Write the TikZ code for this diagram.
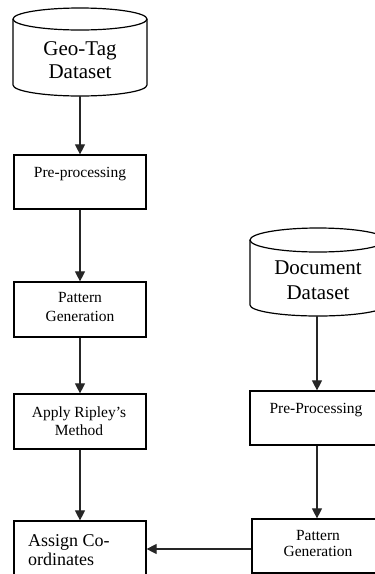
\documentclass[tikz,border=0pt]{standalone}
\usepackage{fontspec}
\setmainfont{Liberation Serif}
\usetikzlibrary{arrows.meta}
\begin{document}
\begin{tikzpicture}[x=1pt,y=-1pt,
  outline/.style={draw=black, line width=1.2pt},
  stepbox/.style={outline, rectangle, inner sep=0pt, fill=white},
  holder/.style={rectangle, inner sep=0pt},
  flow/.style={-{Triangle[length=10pt,width=10pt]}, line width=1.1pt, draw=black!85},
  big/.style={font=\fontsize{21}{24}\selectfont, inner sep=0pt},
  small/.style={font=\fontsize{15.5}{18}\selectfont, inner sep=0pt},
  mid/.style={font=\fontsize{18}{20}\selectfont, inner sep=0pt}]
\clip (0,0) rectangle (375,574);

% ---- left column ----
% Geo-Tag dataset cylinder
\node[holder, minimum width=134pt, minimum height=88pt] (geo) at (80,52) {};
\draw[outline] (80,19) ellipse [x radius=67, y radius=11];
\draw[outline] (13,19) -- (13,85)
  .. controls (13,91.08) and (43,96) .. (80,96)
  .. controls (117,96) and (147,91.08) .. (147,85) -- (147,19);
\node[big, anchor=base] (geoA) at (80,55) {Geo-Tag};
\node[big, anchor=base] (geoB) at (80,78) {Dataset};

\node[stepbox, minimum width=132pt, minimum height=54pt] (pre1) at (80,182) {};
\node[small, anchor=base] (pre1t) at (80,177) {Pre-processing};

\node[stepbox, minimum width=132pt, minimum height=55pt] (pat1) at (80,309.5) {};
\node[small, anchor=base] (pat1a) at (80,302) {Pattern};
\node[small, anchor=base] (pat1b) at (80,321) {Generation};

\node[stepbox, minimum width=132pt, minimum height=55pt] (rip) at (80,421.5) {};
\node[small, anchor=base] (ripa) at (79,417) {Apply Ripley's};
\node[small, anchor=base] (ripb) at (79,435) {Method};

\node[stepbox, minimum width=132pt, minimum height=56pt] (asg) at (80,549) {};
\node[mid, anchor=base west] (asga) at (28,546) {Assign Co-};
\node[mid, anchor=base west] (asgb) at (28,565) {ordinates};

% ---- right column ----
% Document dataset cylinder
\node[holder, minimum width=136pt, minimum height=88pt] (doc) at (318,272) {};
\draw[outline] (318,240) ellipse [x radius=68, y radius=12];
\draw[outline] (250,240) -- (250,305)
  .. controls (250,311.08) and (280.4,316) .. (318,316)
  .. controls (355.6,316) and (386,311.08) .. (386,305) -- (386,240);
\node[big, anchor=base] (docA) at (318,274) {Document};
\node[big, anchor=base] (docB) at (318,299) {Dataset};

\node[stepbox, minimum width=136pt, minimum height=54pt] (pre2) at (318,418) {};
\node[small, anchor=base] (pre2t) at (316,413) {Pre-Processing};

\node[stepbox, minimum width=134pt, minimum height=54pt] (pat2) at (319,546) {};
\node[small, anchor=base] (pat2a) at (318,540) {Pattern};
\node[small, anchor=base] (pat2b) at (318,556) {Generation};

% ---- connectors ----
\draw[flow] (geo.south) -- (pre1.north);
\draw[flow] (pre1.south) -- (pat1.north);
\draw[flow] (pat1.south) -- (rip.north);
\draw[flow] (rip.south) -- (asg.north);
\draw[flow] (doc.south -| 317,0) -- (pre2.north -| 317,0);
\draw[flow] (pre2.south -| 317,0) -- (pat2.north -| 317,0);
\draw[flow] (pat2.west |- asg.east) -- (asg.east);
\end{tikzpicture}
\end{document}
